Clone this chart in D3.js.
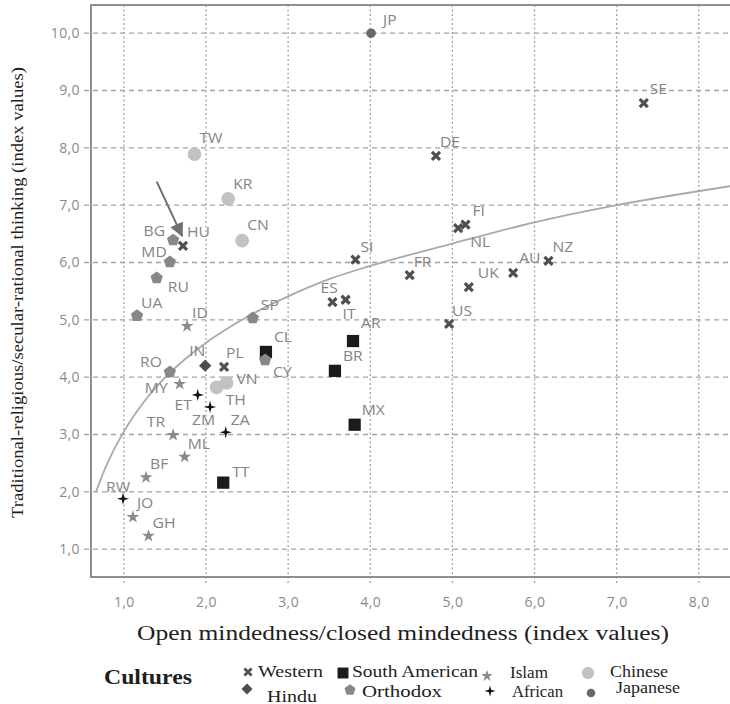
<!DOCTYPE html>
<html>
<head>
<meta charset="utf-8">
<script src="https://cdn.jsdelivr.net/npm/d3@7/dist/d3.min.js"></script>
<style>
  html, body { margin: 0; padding: 0; background: #fff; }
  svg { display: block; }
</style>
</head>
<body>
<svg id="chart" width="730" height="704"></svg>
<script>
// ---- data -------------------------------------------------------------
const countries = ["JP","SE","DE","TW","KR","CN","HU","BG","MD","RU","SI","ES","IT","FI","NL","FR","UK","AU","NZ","US",
  "UA","ID","SP","CL","CY","AR","BR","MX","TT","IN","PL","VN","TH","RO","MY","ET","ZM","ZA","TR","ML","BF","RW","JO","GH"];
const cultureOf = ["Japanese","Western","Western","Chinese","Chinese","Chinese","Western","Orthodox","Orthodox","Orthodox",
  "Western","Western","Western","Western","Western","Western","Western","Western","Western","Western",
  "Orthodox","Islam","Orthodox","South American","Orthodox","South American","South American","South American","South American","Hindu",
  "Western","Chinese","Chinese","Orthodox","Islam","African","African","African","Islam","Islam","Islam","African","Islam","Islam"];
// open mindedness / closed mindedness index
const openness = [4.01,7.33,4.80,1.86,2.27,2.44,1.72,1.60,1.56,1.40,3.82,3.54,3.70,5.16,5.07,4.48,5.20,5.74,6.17,4.96,
  1.16,1.77,2.57,2.73,2.72,3.79,3.57,3.81,2.21,1.99,2.22,2.25,2.13,1.56,1.68,1.90,2.05,2.24,1.60,1.74,1.27,0.99,1.11,1.30];
// traditional-religious / secular-rational index
const secular = [10.0,8.78,7.86,7.89,7.11,6.38,6.29,6.39,6.01,5.73,6.05,5.31,5.35,6.66,6.60,5.78,5.57,5.82,6.03,4.93,
  5.07,4.89,5.03,4.44,4.30,4.63,4.11,3.17,2.16,4.20,4.18,3.90,3.82,4.09,3.88,3.69,3.48,3.04,2.99,2.61,2.25,1.88,1.56,1.23];

// logarithmic trend line through the cloud
const trendX = [0.66,0.80,1.00,1.25,1.50,2.00,2.50,3.00,3.50,4.00,5.00,6.00,7.00,8.38];
const trendY = [2.00,2.50,3.05,3.58,3.99,4.60,5.05,5.41,5.71,5.94,6.33,6.70,7.00,7.33];

// annotation arrow (pointing at Hungary)
const arrowFrom = [1.40, 7.41];
const arrowTo = [1.71, 6.46];

const cultures = ["Western","South American","Islam","Chinese","Hindu","Orthodox","African","Japanese"];
const xTickValues = [1,2,3,4,5,6,7,8];
const yTickValues = [1,2,3,4,5,6,7,8,9,10];

const xTitle = "Open mindedness/closed mindedness (index values)";
const yTitle = "Traditional-religious/secular-rational thinking (index values)";
const legendTitle = "Cultures";

// ---- layout -----------------------------------------------------------
const W = 730, H = 704;
const plot = { left: 91, right: 730, top: 5, bottom: 577 };

// label placement around each marker: [dx, dy, anchor]
const labelOffset = {
  JP:[12,-13], SE:[6,-14], DE:[4,-14], TW:[5,-16], KR:[5,-15], CN:[5,-16], HU:[4,-14],
  BG:[-8,-9,"end"], MD:[-3,-10,"end"], RU:[11,9], SI:[5,-13], ES:[-12,-14], IT:[-3,14],
  FI:[7,-14], NL:[12,14], FR:[4,-13], UK:[9,-14], AU:[6,-15], NZ:[4,-14], US:[3,-13],
  UA:[4,-13], ID:[5,-13], SP:[8,-13], CL:[8,-15], CY:[8,12], AR:[8,-18], BR:[8,-15],
  MX:[7,-15], TT:[9,-11], IN:[-16,-15], PL:[2,-14], VN:[10,-4], TH:[9,12],
  RO:[-8,-10,"end"], MY:[-12,4,"end"], ET:[-6,10,"end"], ZM:[-18,13], ZA:[5,-12],
  TR:[-8,-13,"end"], ML:[3,-13], BF:[4,-14], RW:[-17,-12], JO:[4,-14], GH:[4,-13]
};

// legend placement: marker centre, text start, baseline, text width
const legendLayout = {
  "Western":        { mx:248, my:672, tx:258, ty:677, w:65 },
  "South American": { mx:343, my:673, tx:352, ty:677, w:126 },
  "Islam":          { mx:487, my:676, tx:510, ty:678, w:38 },
  "Chinese":        { mx:588, my:673, tx:610, ty:677, w:58 },
  "Hindu":          { mx:247, my:689, tx:267, ty:702, w:50 },
  "Orthodox":       { mx:350, my:690, tx:362, ty:697, w:80 },
  "African":        { mx:490, my:691, tx:512, ty:697, w:51 },
  "Japanese":       { mx:591, my:693, tx:616, ty:693, w:64 }
};

// ---- custom symbol shapes ----------------------------------------------
const symCross = { draw(ctx, size) { const r = Math.sqrt(size) / 2;
  ctx.moveTo(-r,-r); ctx.lineTo(r,r); ctx.moveTo(-r,r); ctx.lineTo(r,-r); } };
const symPentagon = { draw(ctx, size) { const r = Math.sqrt(size / 2.378);
  for (let i = 0; i < 5; i++) { const a = -Math.PI/2 + i * 2*Math.PI/5;
    const px = r*Math.cos(a), py = r*Math.sin(a); i ? ctx.lineTo(px,py) : ctx.moveTo(px,py); }
  ctx.closePath(); } };
const symRhomb = { draw(ctx, size) { const h = Math.sqrt(size / 2);
  ctx.moveTo(0,-h); ctx.lineTo(h,0); ctx.lineTo(0,h); ctx.lineTo(-h,0); ctx.closePath(); } };
const symSparkle = { draw(ctx, size) { const R = Math.sqrt(size) / 2, r = R * 0.3;
  for (let i = 0; i < 8; i++) { const a = -Math.PI/2 + i * Math.PI/4; const rr = i % 2 ? r : R;
    const px = rr*Math.cos(a), py = rr*Math.sin(a); i ? ctx.lineTo(px,py) : ctx.moveTo(px,py); }
  ctx.closePath(); } };

const style = {
  "Western":        { type: symCross,         size: 64,  fill: "none",    stroke: "#4f4f4f", sw: 3.2 },
  "South American": { type: d3.symbolSquare,  size: 150, fill: "#1b1b1b", stroke: "none",    sw: 0 },
  "Islam":          { type: d3.symbolStar,    size: 52,  fill: "#8a8a8a", stroke: "none",    sw: 0 },
  "Chinese":        { type: d3.symbolCircle,  size: 150, fill: "#c2c2c2", stroke: "none",    sw: 0 },
  "Hindu":          { type: symRhomb,         size: 76,  fill: "#4c4c4c", stroke: "none",    sw: 0 },
  "Orthodox":       { type: symPentagon,      size: 100, fill: "#888888", stroke: "none",    sw: 0 },
  "African":        { type: symSparkle,       size: 150, fill: "#111111", stroke: "none",    sw: 0 },
  "Japanese":       { type: d3.symbolCircle,  size: 72,  fill: "#676767", stroke: "none",    sw: 0 }
};

// ---- scales -----------------------------------------------------------
const x = d3.scaleLinear().domain([0.6, 8.38]).range([plot.left, plot.right]);
const y = d3.scaleLinear().domain([0.5, 10.5]).range([577.8, 4.5]);
const fmt = d3.formatLocale({ decimal: ",", thousands: ".", grouping: [3], currency: ["", ""] }).format(".1f");

const svg = d3.select("#chart");
svg.append("rect").attr("width", W).attr("height", H).attr("fill", "#fff");

const gridColor = "#a3a3a3";

// horizontal dashed grid (also forms the left tick marks)
svg.append("g").selectAll("line").data(yTickValues).join("line")
  .attr("x1", plot.left - 7).attr("x2", plot.right)
  .attr("y1", d => y(d)).attr("y2", d => y(d))
  .attr("stroke", gridColor).attr("stroke-width", 1.3).attr("stroke-dasharray", "5,4");

// vertical dotted grid (also forms the bottom tick marks)
svg.append("g").selectAll("line").data(xTickValues).join("line")
  .attr("x1", d => x(d)).attr("x2", d => x(d))
  .attr("y1", plot.top).attr("y2", plot.bottom + 8)
  .attr("stroke", gridColor).attr("stroke-width", 1.3).attr("stroke-dasharray", "2,2.5");

// axes: labels only, grid supplies the tick marks
const yAxis = svg.append("g").attr("transform", `translate(${plot.left},0)`)
  .call(d3.axisLeft(y).tickValues(yTickValues).tickFormat(fmt).tickSize(0).tickPadding(11));
const xAxis = svg.append("g").attr("transform", `translate(0,${plot.bottom})`)
  .call(d3.axisBottom(x).tickValues(xTickValues).tickFormat(fmt).tickSize(0).tickPadding(20));
[yAxis, xAxis].forEach(g => {
  g.select(".domain").remove();
  g.selectAll("text").attr("fill", "#8a8a8a").attr("font-family", "'Open Sans', sans-serif")
    .attr("font-size", 14).attr("letter-spacing", "0.4px");
});

// frame
const frame = svg.append("g").attr("stroke", "#8f8f8f").attr("stroke-width", 2).attr("fill", "none");
frame.append("path").attr("d", `M${plot.right},${plot.top}H${plot.left}V${plot.bottom}H${plot.right}`);

// trend line
const pts = trendX.map((v, i) => [v, trendY[i]]);
svg.append("path").datum(pts)
  .attr("d", d3.line().x(d => x(d[0])).y(d => y(d[1])).curve(d3.curveMonotoneX))
  .attr("fill", "none").attr("stroke", "#a9a9a9").attr("stroke-width", 1.8);

// arrow
svg.append("defs").append("marker").attr("id", "head")
  .attr("markerUnits", "userSpaceOnUse").attr("markerWidth", 16).attr("markerHeight", 16)
  .attr("refX", 13).attr("refY", 7).attr("orient", "auto")
  .append("path").attr("d", "M0,0L14,7L0,14Z").attr("fill", "#6f6f6f");
svg.append("line")
  .attr("x1", x(arrowFrom[0])).attr("y1", y(arrowFrom[1]))
  .attr("x2", x(arrowTo[0])).attr("y2", y(arrowTo[1]))
  .attr("stroke", "#6f6f6f").attr("stroke-width", 2).attr("marker-end", "url(#head)");

// markers
const sym = d3.symbol();
const pointData = countries.map((c, i) => ({ code: c, culture: cultureOf[i], vx: openness[i], vy: secular[i] }));
svg.append("g").selectAll("path").data(pointData).join("path")
  .attr("transform", d => `translate(${x(d.vx)},${y(d.vy)})`)
  .attr("d", d => sym.type(style[d.culture].type).size(style[d.culture].size)())
  .attr("fill", d => style[d.culture].fill)
  .attr("stroke", d => style[d.culture].stroke)
  .attr("stroke-width", d => style[d.culture].sw);

// country labels (slightly wide sans)
svg.append("g").selectAll("text").data(pointData).join("text")
  .attr("transform", d => {
    const o = labelOffset[d.code];
    return `translate(${x(d.vx) + o[0]},${y(d.vy) + o[1]}) scale(1.12,1)`;
  })
  .attr("text-anchor", d => labelOffset[d.code][2] || "start")
  .attr("dy", "0.36em")
  .attr("font-family", "'Open Sans', sans-serif").attr("font-size", 14)
  .attr("fill", "#858585")
  .text(d => d.code);

// axis titles
svg.append("text").attr("x", 403).attr("y", 640).attr("text-anchor", "middle")
  .attr("font-family", "'Liberation Serif', 'Times New Roman', serif").attr("font-size", 20)
  .attr("fill", "#1e1e1e").attr("textLength", 532).attr("lengthAdjust", "spacingAndGlyphs")
  .text(xTitle);
svg.append("text").attr("transform", "translate(23,292.5) rotate(-90)").attr("text-anchor", "middle")
  .attr("font-family", "'Liberation Serif', 'Times New Roman', serif").attr("font-size", 17.5)
  .attr("fill", "#1e1e1e").attr("textLength", 451).attr("lengthAdjust", "spacingAndGlyphs")
  .text(yTitle);

// legend
const legend = svg.append("g");
legend.append("text").attr("x", 104).attr("y", 684)
  .attr("font-family", "'Liberation Serif', 'Times New Roman', serif").attr("font-size", 20)
  .attr("font-weight", "bold").attr("fill", "#1e1e1e")
  .attr("textLength", 88).attr("lengthAdjust", "spacingAndGlyphs").text(legendTitle);
const items = legend.selectAll("g.item").data(cultures).join("g").attr("class", "item");
items.append("path")
  .attr("transform", d => `translate(${legendLayout[d].mx},${legendLayout[d].my})`)
  .attr("d", d => sym.type(style[d].type).size(style[d].size * 0.8)())
  .attr("fill", d => style[d].fill)
  .attr("stroke", d => style[d].stroke)
  .attr("stroke-width", d => style[d].sw * 0.85);
items.append("text")
  .attr("x", d => legendLayout[d].tx).attr("y", d => legendLayout[d].ty)
  .attr("font-family", "'Liberation Serif', 'Times New Roman', serif").attr("font-size", 16)
  .attr("fill", "#1e1e1e")
  .attr("textLength", d => legendLayout[d].w).attr("lengthAdjust", "spacingAndGlyphs")
  .text(d => d);
</script>
</body>
</html>
